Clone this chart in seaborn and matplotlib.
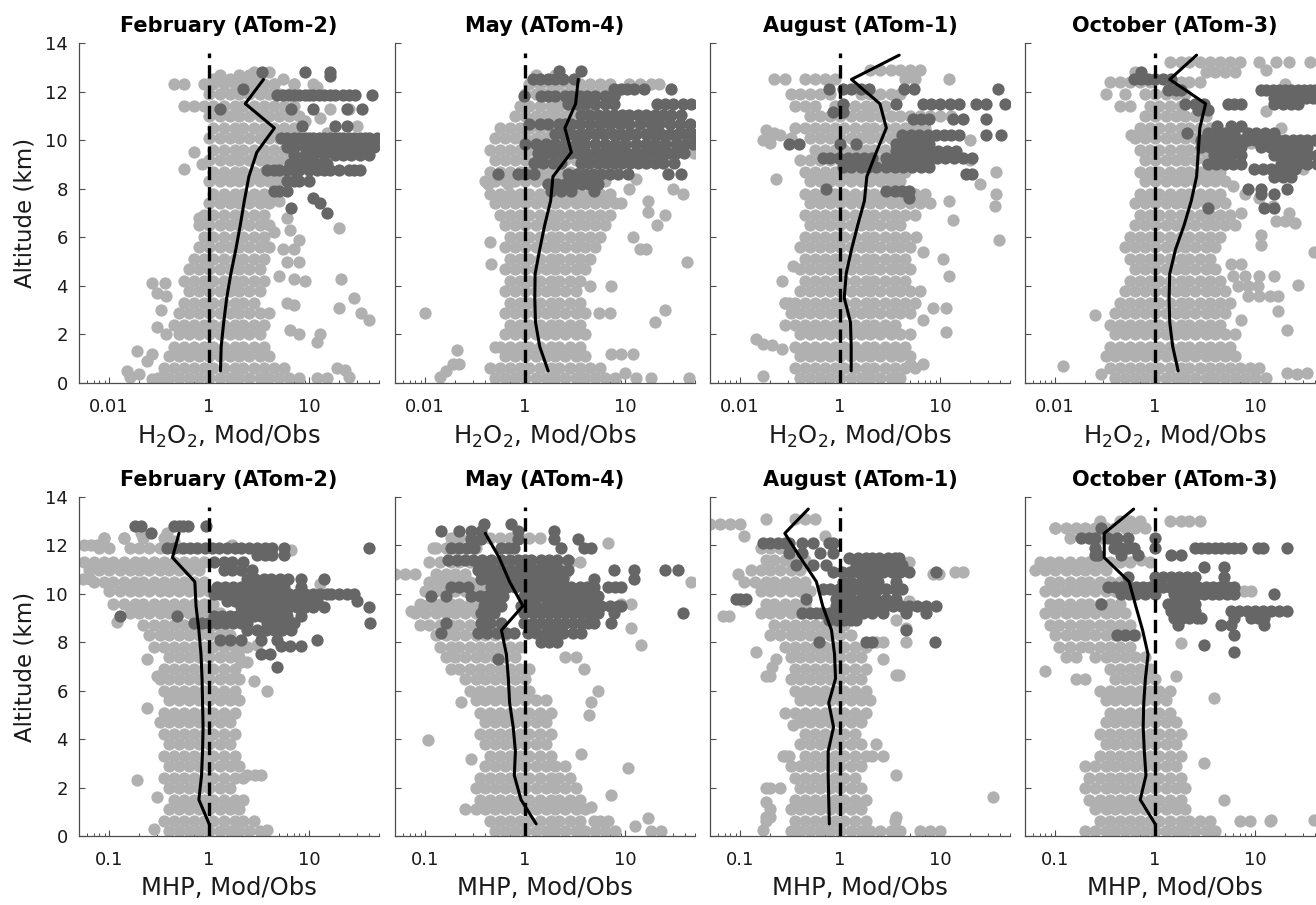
import numpy as np
import pandas as pd
import matplotlib
matplotlib.use("Agg")
import matplotlib.pyplot as plt
import seaborn as sns
from matplotlib.ticker import FixedLocator, LogLocator, NullFormatter

sns.set_style("ticks")
plt.rcParams['font.family'] = ['DejaVu Sans']
plt.rcParams['mathtext.fontset'] = 'dejavusans'
plt.rcParams['mathtext.default'] = 'regular'

# ---------------- text / axes values ----------------
TITLES = ["February (ATom-2)", "May (ATom-4)", "August (ATom-1)", "October (ATom-3)"]
XLABELS = [r"H$_2$O$_2$, Mod/Obs", "MHP, Mod/Obs"]
YLABEL = "Altitude (km)"
XTICKS = [0.1, 1, 10]
XTICKLABELS = [["0.01", "1", "10"], ["0.1", "1", "10"]]
YTICKS = [0, 2, 4, 6, 8, 10, 12, 14]
XLIM = (0.05, 50)
YLIM = (0, 14)
REF_RATIO = 1.0
REF_TOP = 13.6

MED_ALT_13 = [0.5, 1.5, 2.5, 3.5, 4.5, 5.5, 6.5, 7.5, 8.5, 9.5, 10.5, 11.5, 12.5]
MED_ALT_14 = MED_ALT_13 + [13.5]

# ---------------- Feb H2O2 ----------------
FEB_H2O2_LIGHT = [
    (0.2, [0.32, 0.4, 0.5, 0.63, 0.79, 1, 1.3, 1.6, 2, 2.5, 3.2, 4, 5, 6.3, 7.9]),
    (0.6, [0.35, 0.45, 0.56, 0.71, 0.89, 1.1, 1.4, 1.8, 2.2, 2.8, 3.5, 4.5, 5.6]),
    (1.1, [0.4, 0.5, 0.63, 0.79, 1, 1.3, 1.6, 2, 2.5, 3.2, 4]),
    (1.5, [0.45, 0.56, 0.71, 0.89, 1.1, 1.4, 1.8, 2.2, 2.8, 3.5]),
    (2.0, [0.5, 0.63, 0.79, 1, 1.3, 1.6, 2, 2.5, 3.2]),
    (2.4, [0.45, 0.56, 0.71, 0.89, 1.1, 1.4, 1.8, 2.2, 2.8, 3.5]),
    (2.9, [0.5, 0.63, 0.79, 1, 1.3, 1.6, 2, 2.5, 3.2, 4]),
    (3.3, [0.56, 0.71, 0.89, 1.1, 1.4, 1.8, 2.2, 2.8]),
    (3.8, [0.63, 0.79, 1, 1.3, 1.6, 2, 2.5, 3.2]),
    (4.2, [0.56, 0.71, 0.89, 1.1, 1.4, 1.8, 2.2, 2.8, 3.5]),
    (4.7, [0.63, 0.79, 1, 1.3, 1.6, 2, 2.5, 3.2]),
    (5.1, [0.71, 0.89, 1.1, 1.4, 1.8, 2.2, 2.8, 3.5]),
    (5.6, [0.79, 1, 1.3, 1.6, 2, 2.5, 3.2, 4]),
    (6.0, [0.89, 1.1, 1.4, 1.8, 2.2, 2.8, 3.5]),
    (6.5, [0.79, 1, 1.3, 1.6, 2, 2.5, 3.2, 4]),
    (6.9, [0.89, 1.1, 1.4, 1.8, 2.2, 2.8, 3.5]),
    (7.4, [1, 1.3, 1.6, 2, 2.5, 3.2, 4]),
    (7.8, [1.1, 1.4, 1.8, 2.2, 2.8, 3.5, 4.5]),
    (8.3, [1, 1.3, 1.6, 2, 2.5, 3.2, 4, 5]),
    (8.7, [1.1, 1.4, 1.8, 2.2, 2.8, 3.5, 4.5, 5.6]),
    (9.2, [1, 1.3, 1.6, 2, 2.5, 3.2, 4, 5, 6.3]),
    (9.6, [1.1, 1.4, 1.8, 2.2, 2.8, 3.5, 4.5, 5.6, 7.1]),
    (10.1, [1, 1.3, 1.6, 2, 2.5, 3.2, 4, 5, 6.3, 7.9]),
    (10.5, [1.1, 1.4, 1.8, 2.2, 2.8, 3.5, 4.5, 5.6, 7.1]),
    (11.0, [1, 1.3, 1.6, 2, 2.5, 3.2, 4, 5, 6.3, 7.9]),
    (11.4, [0.56, 0.71, 0.89, 1.1, 1.4, 1.8, 2.2, 2.8, 3.5, 4.5, 5.6, 7.1]),
    (11.9, [1, 1.3, 1.6, 2, 2.5, 3.2, 4, 5, 6.3]),
    (12.3, [0.45, 0.56, 0.89, 1.1, 1.4, 1.8, 2.2, 2.8, 3.5, 4.5, 7.1, 11]),
    (12.7, [1.3, 2, 2.5, 3.2]),
]
FEB_H2O2_SCATTER = [
    (0.15, 0.5), (0.16, 0.25), (0.2, 0.35), (0.27, 0.15), (0.31, 0.2), (0.36, 0.2),
    (0.19, 1.3), (0.27, 1.2), (0.24, 0.9), (12, 0.2), (15, 0.2), (19, 0.6), (23, 0.55),
    (25, 0.25), (0.3, 2.3), (0.37, 2.0), (6.5, 2.2), (8, 2.0), (12, 1.7), (13, 2.0),
    (0.33, 3.0), (6, 3.3), (7, 3.2), (20, 3.1), (28, 3.5), (33, 2.9), (40, 2.6),
    (0.3, 3.7), (0.37, 3.6), (0.27, 4.1), (0.36, 4.1), (5, 4.4), (7, 4.3), (9, 4.2),
    (21, 4.3), (6, 5.0), (8, 5.0), (5.5, 5.5), (7, 5.5), (4.5, 6.2), (6.5, 6.3),
    (8, 5.9), (20, 6.4), (0.8, 6.8), (0.7, 9.5), (0.56, 8.8), (0.85, 9.0), (30, 10.6),
    (16, 11.3), (25, 11.3), (9, 10.8), (13, 10.9), (15, 10.3), (4.5, 12.3), (7, 12.3),
    (12, 12.2), (1.1, 12.5), (1.6, 12.5), (5.5, 12.5), (2.8, 12.8), (4, 12.8),
    (5, 7.5), (6, 6.8),
]
FEB_H2O2_DARK = [
    (12.8, [3.4, 9, 16]), (12.65, [16]), (12.1, [2.2]),
    (11.85, [4.8, 5.5, 6.3, 7, 8, 9, 10, 11, 12.6, 14, 16, 18, 22, 25, 29, 43]),
    (11.3, [1.3, 6.6, 11, 24, 34]),
    (10.6, [8.5, 18, 24]),
    (10.1, [5.2, 6, 7, 8, 9, 10, 11, 12.6, 14, 16, 18, 20, 22, 25, 28, 32, 36, 40, 48]),
    (9.7, [6, 7, 9, 11, 13, 16, 20, 25, 30, 35, 40, 45]),
    (9.4, [7, 9, 11, 14, 18, 22, 26, 32, 40]),
    (9.0, [6.5, 8, 10, 12, 15]),
    (8.75, [3.8, 4.5, 5, 6, 7, 8, 10, 12, 14, 16, 20, 25, 28, 32]),
    (8.3, [6, 7, 8, 10]),
    (7.9, [4.5, 5, 6]),
    (7.6, [11]), (7.4, [13]), (7.2, [6.6]), (7.0, [15]),
]
FEB_H2O2_MEDIAN = [1.3, 1.32, 1.4, 1.5, 1.65, 1.85, 2.05, 2.25, 2.5, 3.0, 4.5, 2.3, 3.5]

# ---------------- May H2O2 ----------------
MAY_H2O2_LIGHT = [
    (0.2, [0.5, 0.63, 0.79, 1, 1.3, 1.6, 2, 2.5, 3.2, 4, 5, 6.3, 7.9, 13, 18, 44]),
    (0.6, [0.45, 0.56, 0.71, 0.89, 1.1, 1.4, 1.8, 2.2, 2.8, 3.5, 4.5, 5.6]),
    (1.1, [0.63, 0.79, 1, 1.3, 1.6, 2, 2.5, 3.2, 4]),
    (1.5, [0.56, 0.71, 0.89, 1.1, 1.4, 1.8, 2.2, 2.8, 3.5]),
    (2.0, [0.63, 0.79, 1, 1.3, 1.6, 2, 2.5, 3.2, 4]),
    (2.4, [0.71, 0.89, 1.1, 1.4, 1.8, 2.2, 2.8, 3.5]),
    (2.9, [0.63, 0.79, 1, 1.3, 1.6, 2, 2.5, 3.2]),
    (3.3, [0.71, 0.89, 1.1, 1.4, 1.8, 2.2, 2.8, 3.5]),
    (3.8, [0.63, 0.79, 1, 1.3, 1.6, 2, 2.5, 3.2]),
    (4.2, [0.71, 0.89, 1.1, 1.4, 1.8, 2.2, 2.8, 3.5]),
    (4.7, [0.63, 0.79, 1, 1.3, 1.6, 2, 2.5, 3.2, 4]),
    (5.1, [0.71, 0.89, 1.1, 1.4, 1.8, 2.2, 2.8, 3.5, 4.5]),
    (5.6, [0.63, 0.79, 1, 1.3, 1.6, 2, 2.5, 3.2, 4, 5]),
    (6.0, [0.71, 0.89, 1.1, 1.4, 1.8, 2.2, 2.8, 3.5, 4.5, 5.6]),
    (6.5, [0.63, 0.79, 1, 1.3, 1.6, 2, 2.5, 3.2, 4, 5, 6.3]),
    (6.9, [0.56, 0.71, 0.89, 1.1, 1.4, 1.8, 2.2, 2.8, 3.5, 4.5, 5.6, 7.1]),
    (7.4, [0.5, 0.63, 0.79, 1, 1.3, 1.6, 2, 2.5, 3.2, 4, 5, 6.3, 7.9]),
    (7.8, [0.45, 0.56, 0.71, 0.89, 1.1, 1.4, 1.8, 2.2, 2.8, 3.5, 4.5, 5.6, 7.1]),
    (8.3, [0.4, 0.5, 0.63, 0.79, 1, 1.3, 1.6, 2, 2.5, 3.2, 4, 5, 6.3]),
    (8.7, [0.45, 0.56, 0.71, 0.89, 1.1, 1.4, 1.8, 2.2, 2.8, 3.5]),
    (9.2, [0.5, 0.63, 0.79, 1, 1.3, 1.6, 2, 2.5, 3.2]),
    (9.6, [0.45, 0.56, 0.71, 0.89, 1.1, 1.4, 1.8, 2.2, 2.8]),
    (10.1, [0.5, 0.63, 0.79, 1, 1.3, 1.6, 2, 2.5]),
    (10.5, [0.56, 0.71, 0.89, 1.1, 1.4, 1.8, 2.2, 2.8]),
    (11.0, [0.79, 1, 1.3, 1.6, 2, 2.5, 3.2, 4]),
    (11.4, [0.89, 1.1, 1.4, 1.8, 2.2, 2.8, 3.5, 4.5]),
    (11.9, [1, 1.3, 1.6, 2, 2.5, 3.2, 4, 5, 6.3, 7.9]),
    (12.3, [1.1, 1.4, 1.8, 2.2, 2.8, 3.5, 4.5, 5.6, 7.1, 11, 14, 18, 22]),
    (12.7, [1.3, 2]),
]
MAY_H2O2_SCATTER = [
    (0.14, 0.25), (0.19, 0.8), (0.22, 0.8), (0.21, 1.35), (0.5, 1.5), (7.2, 1.2),
    (9, 1.2), (12, 1.2), (0.1, 2.9), (4, 2.9), (5.5, 2.9), (7, 2.9), (20, 2.5),
    (25, 3.0), (0.46, 4.9), (0.45, 5.8), (4.5, 4.0), (7.2, 4.0), (42, 5.0), (14, 5.5),
    (16, 5.5), (17, 7.05), (21, 6.5), (25, 6.9), (38, 7.8), (30, 8.0), (17, 7.5),
    (49, 9.45), (0.43, 8.2), (0.67, 8.2), (11, 8.0), (13, 8.4), (0.16, 0.5),
    (10, 0.4), (9, 7.4), (12, 6.0),
]
MAY_H2O2_DARK = [
    (12.85, [2.2, 3.6]),
    (12.5, [1.2, 1.4, 1.7, 2.0, 2.4, 3.1]),
    (12.1, [7.8, 9, 10.5, 12.4, 15.6, 29]),
    (11.8, [0.98, 1.45, 1.7, 2, 2.5, 2.9, 3.5, 4.2, 5, 6.3, 7.8]),
    (11.5, [2.7, 3.3, 4, 5, 6.3, 7.8, 21, 25, 30, 38, 46]),
    (11.05, [3.6, 4.4, 5.3, 6.4, 7.7, 9.3, 11, 13.5, 16, 20, 24, 29, 36]),
    (10.65, [1.1, 1.4, 1.7, 2.2, 2.5, 2.9, 3.5, 4.5, 5.6, 7, 8.9, 11, 14, 18, 22, 28, 35, 45]),
    (10.25, [2, 2.4, 2.9, 3.5, 4.2, 5.1, 6.2, 7.5, 9, 11, 13, 16, 19, 23, 28, 34, 41, 48]),
    (9.85, [1, 1.3, 1.6, 2, 2.5, 3.2, 4, 5, 6.3, 7.9, 10, 13, 16, 20, 25, 32, 40, 48]),
    (9.45, [1.34, 1.6, 1.95, 2.35, 2.8, 3.4, 4.1, 5, 6, 7.2, 8.7, 10.5, 12.7, 15.3, 18.5, 22, 27, 32, 39]),
    (9.05, [1.24, 1.5, 1.9, 2.3, 3.6, 4.4, 5.3, 6.4, 7.7, 9.3, 11.2, 13.5, 16, 20, 24, 31]),
    (8.6, [0.53, 0.85, 1.0, 1.24, 2.7, 3.3, 4, 4.8, 5.8, 7, 8.5, 10.6, 27, 36]),
    (8.2, [1.7, 2.1, 2.5, 3.1, 3.7, 4.4, 5.3]),
    (7.9, [1.8, 2.3, 2.9, 4.9]),
]
MAY_H2O2_MEDIAN = [1.7, 1.4, 1.27, 1.25, 1.26, 1.4, 1.57, 1.8, 1.9, 2.9, 2.5, 3.2, 3.4]

# ---------------- Aug H2O2 ----------------
AUG_H2O2_LIGHT = [
    (0.2, [0.4, 0.5, 0.63, 0.79, 1, 1.3, 1.6, 2, 2.5, 3.2, 4]),
    (0.6, [0.35, 0.45, 0.56, 0.71, 0.89, 1.1, 1.4, 1.8, 2.2, 2.8, 3.5, 4.5, 5.6]),
    (1.1, [0.4, 0.5, 0.63, 0.79, 1, 1.3, 1.6, 2, 2.5, 3.2, 4, 5]),
    (1.5, [0.35, 0.45, 0.56, 0.71, 0.89, 1.1, 1.4, 1.8, 2.2, 2.8, 3.5, 4.5]),
    (2.0, [0.4, 0.5, 0.63, 0.79, 1, 1.3, 1.6, 2, 2.5, 3.2, 4, 5]),
    (2.4, [0.28, 0.35, 0.45, 0.56, 0.71, 0.89, 1.1, 1.4, 1.8, 2.2, 2.8, 3.5]),
    (2.9, [0.32, 0.4, 0.5, 0.63, 0.79, 1, 1.3, 1.6, 2, 2.5, 3.2, 4, 5]),
    (3.3, [0.28, 0.35, 0.45, 0.56, 0.71, 0.89, 1.1, 1.4, 1.8, 2.2, 2.8, 3.5, 4.5, 5.6]),
    (3.8, [0.4, 0.5, 0.63, 0.79, 1, 1.3, 1.6, 2, 2.5, 3.2, 4, 5, 6.3]),
    (4.2, [0.45, 0.56, 0.71, 0.89, 1.1, 1.4, 1.8, 2.2, 2.8, 3.5, 4.5]),
    (4.7, [0.4, 0.5, 0.63, 0.79, 1, 1.3, 1.6, 2, 2.5, 3.2, 4, 5]),
    (5.1, [0.45, 0.56, 0.71, 0.89, 1.1, 1.4, 1.8, 2.2, 2.8, 3.5, 4.5]),
    (5.6, [0.4, 0.5, 0.63, 0.79, 1, 1.3, 1.6, 2, 2.5, 3.2, 4, 5]),
    (6.0, [0.45, 0.56, 0.71, 0.89, 1.1, 1.4, 1.8, 2.2, 2.8, 3.5, 4.5]),
    (6.5, [0.5, 0.63, 0.79, 1, 1.3, 1.6, 2, 2.5, 3.2, 4]),
    (6.9, [0.45, 0.56, 0.71, 0.89, 1.1, 1.4, 1.8, 2.2, 2.8, 3.5, 4.5, 5.6]),
    (7.4, [0.5, 0.63, 0.79, 1, 1.3, 1.6, 2, 2.5, 3.2, 4, 5, 6.3, 7.9]),
    (7.8, [0.45, 0.56, 0.71, 0.89, 1.1, 1.4, 1.8, 2.2, 2.8, 3.5, 4.5, 5.6, 7.1]),
    (8.3, [0.5, 0.63, 0.79, 1, 1.3, 1.6, 2, 2.5, 3.2, 4]),
    (8.7, [0.45, 0.56, 0.71, 0.89, 1.1, 1.4, 1.8, 2.2, 2.8, 3.5, 4.5]),
    (9.2, [0.4, 0.5, 0.63, 0.79, 1, 1.3, 1.6, 2, 2.5, 3.2, 4, 5, 6.3, 7.9]),
    (9.6, [0.56, 0.71, 0.89, 1.1, 1.4, 1.8, 2.2, 2.8, 3.5]),
    (10.1, [0.2, 0.32, 0.5, 0.63, 0.79, 1, 1.3, 1.6, 2, 2.5, 3.2, 4]),
    (10.5, [0.35, 0.45, 0.56, 0.71, 0.89, 1.1, 1.4, 1.8, 2.2, 2.8, 3.5, 4.5, 5.6, 7.1]),
    (11.0, [0.5, 0.63, 0.79, 1, 1.3, 1.6, 2, 2.5, 3.2, 4, 5, 6.3, 7.9, 10, 13]),
    (11.4, [0.35, 0.45, 0.56, 0.89, 1.1, 1.4, 1.8, 2.2, 2.8]),
    (11.9, [0.32, 0.4, 0.5, 0.63, 0.79, 1.6, 2, 2.5, 3.2, 4]),
    (12.5, [0.22, 0.28, 0.45, 0.56, 0.71, 0.89, 4.5, 5.6]),
    (12.9, [2, 2.5, 3.2, 4, 5, 6.3]),
]
AUG_H2O2_SCATTER = [
    (0.145, 1.8), (0.21, 1.55), (0.26, 1.4), (0.28, 3.3), (0.31, 3.3), (0.34, 4.8),
    (0.23, 8.4), (0.26, 4.2), (0.17, 0.3), (10.7, 5.1), (12.4, 4.4), (12.4, 7.5),
    (13.4, 6.7), (39, 5.9), (36, 7.8), (35, 7.3), (36, 8.7), (25, 8.2), (20, 9.2),
    (20, 10.0), (11.5, 3.1), (8.5, 3.1), (6.7, 2.6), (11.5, 2.1), (5.8, 6.0),
    (6.7, 5.4), (0.18, 10.4), (0.22, 10.3), (0.25, 10.2), (0.17, 10.0), (0.2, 9.9),
    (12.4, 12.5), (5, 0.8), (6.7, 0.8), (0.17, 1.6),
]
AUG_H2O2_DARK = [
    (12.1, [0.78, 1.06, 1.3, 1.6, 1.96, 4.4, 5.5, 38]),
    (11.5, [1.06, 3.6, 6.7, 8.2, 10, 12.5, 15.6, 23, 29, 45]),
    (11.15, [0.85, 1.06]),
    (10.85, [5.3, 6.4, 7.8, 13.4, 16.8, 29]),
    (10.2, [4.2, 5.1, 6.2, 7.5, 9, 11, 13, 15.6, 29, 41]),
    (9.85, [0.31, 0.39, 1, 1.45, 3.6, 4.4, 5.3, 6.4, 7.8]),
    (9.55, [3.6, 4.4, 5.3, 6.4, 7.8, 9.5, 11.7, 14.5]),
    (9.25, [0.67, 0.8, 0.98, 1.2, 1.45, 1.75, 2.1, 2.9, 3.5, 4.3, 5.2, 6.3, 7.7, 9.3, 11.3, 13.8, 17, 21]),
    (8.9, [1.06, 1.3, 1.6, 1.9, 2.3, 2.9, 3.5, 4.3, 5.2, 6.4, 7.8]),
    (8.6, [18, 21]),
    (8.0, [0.72]),
    (7.9, [2.9, 3.5, 4.2, 4.9]),
    (7.6, [4.9]),
]
AUG_H2O2_MEDIAN = [1.29, 1.29, 1.27, 1.1, 1.15, 1.3, 1.5, 1.75, 1.85, 2.3, 2.9, 2.5, 1.3, 3.9]

# ---------------- Oct H2O2 ----------------
OCT_H2O2_LIGHT = [
    (0.2, [0.4, 0.5, 0.63, 0.79, 1, 1.3, 1.6, 2, 2.5, 3.2, 4, 5, 6.3, 7.9, 10, 13]),
    (0.6, [0.35, 0.45, 0.56, 0.71, 0.89, 1.1, 1.4, 1.8, 2.2, 2.8, 3.5, 4.5, 5.6, 7.1, 8.9, 11]),
    (1.1, [0.32, 0.4, 0.5, 0.63, 0.79, 1, 1.3, 1.6, 2, 2.5, 3.2, 4, 5, 6.3]),
    (1.5, [0.35, 0.45, 0.56, 0.71, 0.89, 1.1, 1.4, 1.8, 2.2, 2.8, 3.5, 4.5, 5.6]),
    (2.0, [0.4, 0.5, 0.63, 0.79, 1, 1.3, 1.6, 2, 2.5, 3.2, 4, 5, 6.3]),
    (2.4, [0.35, 0.45, 0.56, 0.71, 0.89, 1.1, 1.4, 1.8, 2.2, 2.8, 3.5, 4.5]),
    (2.9, [0.4, 0.5, 0.63, 0.79, 1, 1.3, 1.6, 2, 2.5, 3.2, 4, 5]),
    (3.3, [0.45, 0.56, 0.71, 0.89, 1.1, 1.4, 1.8, 2.2, 2.8, 3.5, 4.5, 5.6]),
    (3.8, [0.5, 0.63, 0.79, 1, 1.3, 1.6, 2, 2.5, 3.2, 4, 5]),
    (4.2, [0.56, 0.71, 0.89, 1.1, 1.4, 1.8, 2.2, 2.8, 3.5, 4.5]),
    (4.7, [0.63, 0.79, 1, 1.3, 1.6, 2, 2.5, 3.2, 4]),
    (5.1, [0.56, 0.71, 0.89, 1.1, 1.4, 1.8, 2.2, 2.8, 3.5]),
    (5.6, [0.5, 0.63, 0.79, 1, 1.3, 1.6, 2, 2.5, 3.2, 4]),
    (6.0, [0.56, 0.71, 0.89, 1.1, 1.4, 1.8, 2.2, 2.8, 3.5, 4.5]),
    (6.5, [0.63, 0.79, 1, 1.3, 1.6, 2, 2.5, 3.2, 4, 5, 6.3]),
    (6.9, [0.71, 0.89, 1.1, 1.4, 1.8, 2.2, 2.8, 3.5, 4.5, 5.6]),
    (7.4, [0.63, 0.79, 1, 1.3, 1.6, 2, 2.5, 3.2, 4, 5]),
    (7.8, [0.71, 0.89, 1.1, 1.4, 1.8, 2.2, 2.8, 3.5, 4.5]),
    (8.3, [0.79, 1, 1.3, 1.6, 2, 2.5, 3.2, 4, 5]),
    (8.7, [0.71, 0.89, 1.1, 1.4, 1.8, 2.2, 2.8, 3.5, 4.5]),
    (9.2, [0.79, 1, 1.3, 1.6, 2, 2.5, 3.2, 4]),
    (9.6, [0.71, 0.89, 1.1, 1.4, 1.8, 2.2, 2.8, 3.5]),
    (10.1, [0.63, 0.79, 1, 1.3, 1.6, 2, 2.5, 3.2]),
    (10.5, [0.71, 0.89, 1.1, 1.4, 1.8, 2.2, 2.8, 3.5]),
    (11.0, [0.79, 1, 1.3, 1.6, 2, 2.5, 3.2]),
    (11.4, [0.45, 0.56, 0.89, 1.1, 1.4, 1.8]),
    (11.9, [0.32, 0.5, 0.79, 1, 1.3, 1.6, 2]),
    (12.4, [0.35, 0.45, 0.56, 0.71, 0.89, 1.4, 1.8, 2.2, 2.8]),
    (12.8, [0.63, 3.2, 4, 5, 6.3]),
    (13.2, [1.4, 1.8, 2.2, 2.8, 3.5, 4.5, 5.6, 7.1, 11, 22, 35]),
]
OCT_H2O2_SCATTER = [
    (6, 8.1), (8, 7.8), (11, 7.6), (15, 7.3), (22, 7.0), (7.2, 7.0), (16, 6.65),
    (20, 6.65), (25, 6.6), (11.5, 6.1), (11.5, 5.7), (39, 5.4), (5.8, 4.9), (7.2, 4.9),
    (6, 4.4), (8, 4.4), (11, 4.4), (15.6, 4.4), (27, 4.05), (6.7, 4.0), (8.5, 4.0),
    (10.6, 4.0), (8.4, 3.6), (11, 3.6), (14, 3.6), (16.8, 3.6), (0.25, 2.8), (17, 2.95),
    (7.2, 2.6), (21, 2.2), (0.12, 0.7), (0.29, 0.35), (21, 0.4), (26, 0.35), (33, 0.4),
    (18, 10.5), (25, 9.2), (30, 8.8), (0.58, 10.2), (0.72, 10.2), (13, 11.2), (20, 12.3),
    (9, 9.9), (13, 12.9), (16, 13.2),
]
OCT_H2O2_DARK = [
    (12.8, [0.72]),
    (12.5, [0.62, 0.72, 0.85, 1, 1.2, 1.45]),
    (12.05, [1.35, 1.6, 1.8, 11.5, 13, 15, 17.5, 20, 23, 27, 31, 35, 40]),
    (11.75, [15.6, 18, 21, 24, 28, 32, 38, 42]),
    (11.5, [2, 2.5, 3.1, 5.3, 6.2, 7.2, 15.6, 19, 23, 27]),
    (11.25, [2.7, 3.4]),
    (10.6, [4.2, 5.7, 7.2]),
    (10.3, [2.1, 3.4, 4.1, 5, 6.2, 8.4, 10.3, 12.7, 15.6]),
    (10.0, [2.9, 3.4, 4, 4.6, 5.4, 6.3, 7.2, 8.5, 10, 12, 14.5, 17, 20, 24, 28, 33, 40]),
    (9.7, [2.9, 3.5, 4.2, 5, 6, 7.2, 11.5, 14, 17, 21, 26, 33]),
    (9.4, [3.9, 4.7, 5.7, 7.2, 15.6, 19, 23, 28, 34, 42]),
    (9.0, [3.4, 4.1, 5, 6, 7.2, 18, 22, 27, 33, 42]),
    (8.8, [9.8, 12, 14.5, 17.5, 21, 25]),
    (8.5, [15.6, 19, 23]),
    (8.0, [8.4, 11.5, 21]),
    (7.8, [11.5, 15.6]),
    (7.2, [3.4, 12.4, 15.6]),
]
OCT_H2O2_MEDIAN = [1.7, 1.5, 1.4, 1.38, 1.4, 1.6, 1.95, 2.3, 2.6, 2.7, 2.8, 3.2, 1.4, 2.6]

# ---------------- Feb MHP ----------------
FEB_MHP_LIGHT = [
    (0.2, [0.4, 0.5, 0.63, 0.79, 1, 1.3, 1.6, 2, 2.5, 3.2]),
    (0.6, [0.35, 0.45, 0.56, 0.71, 0.89, 1.1, 1.4, 1.8, 2.2, 2.8]),
    (1.1, [0.4, 0.5, 0.63, 0.79, 1, 1.3, 1.6, 2]),
    (1.5, [0.45, 0.56, 0.71, 0.89, 1.1, 1.4, 1.8, 2.2]),
    (2.0, [0.4, 0.5, 0.63, 0.79, 1, 1.3, 1.6]),
    (2.4, [0.35, 0.45, 0.56, 0.71, 0.89, 1.1, 1.4, 1.8, 2.2]),
    (2.9, [0.4, 0.5, 0.63, 0.79, 1, 1.3, 1.6, 2]),
    (3.3, [0.35, 0.45, 0.56, 0.71, 0.89, 1.1, 1.4, 1.8]),
    (3.8, [0.4, 0.5, 0.63, 0.79, 1, 1.3, 1.6]),
    (4.2, [0.35, 0.45, 0.56, 0.71, 0.89, 1.1, 1.4, 1.8]),
    (4.7, [0.32, 0.4, 0.5, 0.63, 0.79, 1, 1.3, 1.6]),
    (5.1, [0.35, 0.45, 0.56, 0.71, 0.89, 1.1, 1.4, 1.8]),
    (5.6, [0.4, 0.5, 0.63, 0.79, 1, 1.3, 1.6, 2]),
    (6.0, [0.35, 0.45, 0.56, 0.71, 0.89, 1.1, 1.4, 1.8]),
    (6.5, [0.32, 0.4, 0.5, 0.63, 0.79, 1, 1.3, 1.6, 2]),
    (6.9, [0.35, 0.45, 0.56, 0.71, 0.89, 1.1, 1.4, 1.8]),
    (7.4, [0.4, 0.5, 0.63, 0.79, 1, 1.3, 1.6, 2]),
    (7.8, [0.28, 0.35, 0.45, 0.56, 0.71, 0.89, 1.1, 1.4, 1.8, 2.2]),
    (8.3, [0.25, 0.32, 0.4, 0.5, 0.63, 0.79, 1, 1.3, 1.6]),
    (8.7, [0.22, 0.28, 0.35, 0.45, 0.56, 0.71, 0.89, 1.1, 1.4]),
    (9.2, [0.16, 0.2, 0.25, 0.32, 0.4, 0.5, 0.63, 0.79, 1, 1.3]),
    (9.6, [0.11, 0.14, 0.18, 0.22, 0.28, 0.35, 0.45, 0.56, 0.71, 0.89, 1.1]),
    (10.1, [0.1, 0.13, 0.16, 0.2, 0.25, 0.32, 0.4, 0.5, 0.63, 0.79, 1]),
    (10.5, [0.071, 0.089, 0.11, 0.14, 0.18, 0.22, 0.28, 0.35, 0.45, 0.56, 0.71, 0.89]),
    (11.0, [0.063, 0.079, 0.1, 0.13, 0.16, 0.2, 0.25, 0.32, 0.4, 0.5, 0.63, 0.79]),
    (11.3, [0.056, 0.071, 0.089, 0.11, 0.14, 0.18, 0.22, 0.28, 0.35, 0.45, 0.56, 0.71, 0.89]),
    (11.9, [0.079, 0.1, 0.16, 0.2, 0.25, 0.32, 0.5]),
    (12.3, [0.089, 0.14, 0.22, 0.35]),
]
FEB_MHP_SCATTER = [
    (0.056, 12.0), (0.066, 12.0), (0.076, 12.0), (0.089, 12.3), (0.14, 12.3),
    (0.21, 12.5), (0.38, 12.5), (0.055, 10.6), (0.065, 10.6), (13, 10.4), (0.12, 8.85),
    (0.24, 7.3), (0.3, 6.6), (2.8, 6.4), (3.8, 6.0), (0.24, 5.3), (2.4, 2.5), (2.9, 2.5),
    (3.3, 2.5), (0.19, 2.3), (0.3, 1.6), (0.28, 0.3), (3.8, 0.25), (2.1, 7.2), (2.4, 7.2),
    (6.6, 11.8), (2.4, 7.8), (3, 7.9), (1.7, 12.0), (0.45, 12.2),
]
FEB_MHP_DARK = [
    (12.8, [0.18, 0.21, 0.45, 0.5, 0.55, 0.61, 0.93]),
    (12.5, [0.26]),
    (11.9, [0.38, 0.45, 0.55, 0.65, 0.76, 0.9, 1.07, 1.26, 1.5, 1.8, 2.1, 2.5, 3, 3.6, 4.3, 5.6, 40]),
    (11.6, [3.0, 3.6, 4.3, 5.6]),
    (11.3, [1.12, 1.4, 1.7, 2.2]),
    (11.0, [1.4, 1.7, 2.1, 2.7]),
    (10.6, [2.4, 2.9, 3.5, 4.2, 5.1, 6.2, 8.3, 14]),
    (10.3, [1.2, 1.45, 1.75, 2.1, 2.5, 3, 3.6, 4.4, 5.6, 8.3]),
    (10.0, [1.12, 1.3, 1.5, 1.8, 2.1, 2.5, 3, 3.6, 4.3, 5.2, 6.3, 7.6, 9, 11, 13, 15, 16.5, 20, 24, 28]),
    (9.7, [1.5, 1.8, 2.2, 2.6, 3.1, 3.7, 4.5, 5.4, 6.5, 7.8, 9.4, 12, 30]),
    (9.45, [2.1, 2.5, 3, 3.6, 4.4, 5.3, 6.3, 7.6, 9.2, 11, 14, 40]),
    (9.1, [0.13, 0.48, 1.12, 1.35, 1.6, 1.9, 2.3, 2.8, 3.3, 4, 4.8, 6, 8.3]),
    (8.8, [0.71, 0.85, 1.0, 1.2, 1.45, 1.75, 2.1, 2.4, 3.8, 4.6, 5.6, 7.1, 41]),
    (8.5, [2.4, 3, 3.7, 4.5, 5.4, 6.6]),
    (8.1, [1.3, 1.6, 2.1, 3.3, 4.8, 12]),
    (7.85, [5.2, 6.5, 8.3]),
    (7.5, [3.3, 4.1]),
    (7.0, [4.8]),
]
FEB_MHP_MEDIAN = [1.0, 0.79, 0.84, 0.86, 0.87, 0.86, 0.85, 0.83, 0.79, 0.74, 0.72, 0.43, 0.5]

# ---------------- May MHP ----------------
MAY_MHP_LIGHT = [
    (0.2, [0.5, 0.63, 0.79, 1, 1.3, 1.6, 2, 2.5, 3.2, 4, 5, 6.3, 7.9, 18, 23]),
    (0.6, [0.45, 0.56, 0.71, 0.89, 1.1, 1.4, 1.8, 2.2, 2.8, 3.5, 5.6]),
    (1.1, [0.25, 0.32, 0.4, 0.5, 0.63, 0.79, 1, 1.3, 1.6, 2, 2.5, 3.2, 4]),
    (1.5, [0.35, 0.45, 0.56, 0.71, 0.89, 1.1, 1.4, 1.8, 2.2, 2.8, 3.5]),
    (2.0, [0.32, 0.4, 0.5, 0.63, 0.79, 1, 1.3, 1.6, 2, 2.5, 3.2]),
    (2.4, [0.35, 0.45, 0.56, 0.71, 0.89, 1.1, 1.4, 1.8, 2.2, 2.8]),
    (2.9, [0.4, 0.5, 0.63, 0.79, 1, 1.3, 1.6, 2, 2.5]),
    (3.3, [0.45, 0.56, 0.71, 0.89, 1.1, 1.4, 1.8]),
    (3.8, [0.4, 0.5, 0.63, 0.79, 1, 1.3, 1.6]),
    (4.2, [0.35, 0.45, 0.56, 0.71, 0.89, 1.1, 1.4, 1.8]),
    (4.7, [0.4, 0.5, 0.63, 0.79, 1, 1.3, 1.6]),
    (5.1, [0.35, 0.45, 0.56, 0.71, 0.89, 1.1, 1.4, 1.8]),
    (5.6, [0.32, 0.4, 0.5, 0.63, 0.79, 1, 1.3, 1.6]),
    (6.0, [0.28, 0.35, 0.45, 0.56, 0.71, 0.89, 1.1]),
    (6.5, [0.25, 0.32, 0.4, 0.5, 0.63, 0.79, 1]),
    (6.9, [0.18, 0.22, 0.28, 0.35, 0.45, 0.56, 0.71, 0.89, 1.1]),
    (7.4, [0.16, 0.2, 0.25, 0.32, 0.4, 0.5, 0.63, 0.79, 2.5, 3.2]),
    (7.8, [0.14, 0.18, 0.22, 0.28, 0.35, 0.45, 0.56, 0.71, 0.89]),
    (8.3, [0.13, 0.16, 0.2, 0.25, 0.32, 0.4, 0.5, 0.63]),
    (8.7, [0.089, 0.11, 0.14, 0.18, 0.22, 0.28, 0.35, 0.45]),
    (9.2, [0.079, 0.1, 0.13, 0.16, 0.2, 0.25, 0.32, 0.4]),
    (9.6, [0.089, 0.11, 0.14, 0.18, 0.22, 0.28, 0.35, 0.45]),
    (10.1, [0.1, 0.13, 0.16, 0.2, 0.25, 0.32, 0.4, 0.5]),
    (10.5, [0.11, 0.14, 0.18, 0.22, 0.28, 0.35, 0.45, 0.56, 0.71, 0.89]),
    (10.8, [0.05, 0.063, 0.079, 0.13, 0.16, 0.2, 0.25, 2, 2.5]),
    (11.3, [0.11, 0.14, 0.18, 0.22, 0.28, 0.35, 0.45, 0.56, 1.4, 1.8, 2.2, 2.8, 3.5]),
    (11.9, [0.13, 0.16, 0.2, 0.25, 0.32]),
    (12.3, [0.18, 0.22, 0.28, 0.35, 0.45, 0.56, 0.71, 0.89, 1.1, 1.4]),
]
MAY_MHP_SCATTER = [
    (0.107, 3.97), (0.29, 3.2), (0.23, 5.55), (3.6, 3.4), (10.6, 2.8), (7.2, 1.7),
    (4.6, 1.2), (3.9, 6.9), (5.4, 6.0), (4.6, 5.55), (4.4, 5.0), (14.5, 7.9), (11.5, 8.6),
    (9, 9.6), (11.5, 9.6), (46, 10.5), (0.072, 9.3), (6.7, 12.1), (17, 0.73), (4.9, 0.6),
    (6.7, 0.6), (12.5, 0.4), (0.12, 11.9),
]
MAY_MHP_DARK = [
    (12.9, [0.39, 0.72]),
    (12.6, [0.145, 0.22, 0.29, 0.36, 0.85, 1.96]),
    (12.25, [0.29, 0.36, 0.85, 1.96, 3.4]),
    (11.9, [0.18, 0.22, 0.26, 0.31, 0.58, 0.68, 0.78, 2.3, 3.9, 4.6]),
    (11.4, [0.17, 0.21, 0.25, 0.3, 0.37, 0.46, 0.58, 0.7, 0.85, 1.0, 1.15, 1.45, 1.75, 2.1, 2.7]),
    (11.0, [0.34, 0.41, 0.5, 0.6, 0.72, 0.87, 1.05, 1.25, 1.5, 1.8, 2.2, 2.7, 7.8, 12.4, 25, 34]),
    (10.6, [0.36, 0.43, 0.52, 0.63, 0.76, 0.92, 1.1, 1.35, 1.6, 2, 2.4, 4.9, 12.4]),
    (10.3, [0.18, 0.22, 0.27, 0.46, 0.55, 0.66, 0.8, 0.96, 1.15, 1.4, 1.7, 2, 2.4, 2.9, 3.5, 4.2, 4.9, 6.7, 8, 9.1]),
    (9.9, [0.115, 0.16, 0.29, 0.35, 0.42, 0.5, 0.6, 0.98, 1.2, 1.45, 1.75, 2.1, 2.5, 3, 3.6, 4.4, 5.3]),
    (9.5, [0.39, 0.47, 0.58, 0.91, 1.1, 1.3, 1.6, 1.9, 2.3, 2.8, 3.3, 4, 4.8, 5.8, 7, 8.4, 9.1]),
    (9.2, [0.36, 0.42, 0.49, 0.98, 1.2, 1.45, 1.75, 2.1, 2.5, 3, 3.6, 4.4, 5.3, 7.8, 38]),
    (8.8, [0.16, 0.36, 0.45, 0.58, 0.98, 1.2, 1.45, 1.75, 2.1, 2.5, 3, 3.6, 4.3, 4.9, 7.2]),
    (8.4, [0.145, 0.34, 0.42, 0.52, 0.64, 0.78, 1.06, 1.3, 1.6, 2, 2.4, 3, 3.6]),
    (8.0, [1.45, 1.75, 2.1]),
    (7.3, [0.53]),
]
MAY_MHP_MEDIAN = [1.29, 0.91, 0.78, 0.8, 0.76, 0.7, 0.68, 0.65, 0.58, 0.95, 0.7, 0.55, 0.4]

# ---------------- Aug MHP ----------------
AUG_MHP_LIGHT = [
    (0.2, [0.32, 0.4, 0.5, 0.63, 0.79, 1, 1.3, 1.6, 2, 2.5, 3.2, 4, 6.3, 7.9, 10]),
    (0.6, [0.18, 0.35, 0.45, 0.56, 0.71, 0.89, 1.1, 1.4, 1.8, 3.5]),
    (1.1, [0.2, 0.32, 0.4, 0.5, 0.63, 0.79, 1, 1.3, 1.6]),
    (1.5, [0.35, 0.45, 0.56, 0.71, 0.89, 1.1, 1.4, 1.8]),
    (2.0, [0.2, 0.25, 0.4, 0.5, 0.63, 0.79, 1, 1.3, 1.6]),
    (2.4, [0.35, 0.45, 0.56, 0.71, 0.89, 1.1, 1.4]),
    (2.9, [0.32, 0.4, 0.5, 0.63, 0.79, 1, 1.3, 1.6]),
    (3.3, [0.28, 0.45, 0.56, 0.71, 0.89, 1.1, 1.4, 1.8]),
    (3.8, [0.4, 0.5, 0.63, 0.79, 1, 1.3, 1.6]),
    (4.2, [0.45, 0.56, 0.71, 0.89, 1.1, 1.4]),
    (4.7, [0.4, 0.5, 0.63, 0.79, 1, 1.3, 1.6]),
    (5.1, [0.35, 0.45, 0.56, 0.71, 0.89, 1.1, 1.4, 1.8]),
    (5.6, [0.4, 0.5, 0.63, 0.79, 1, 1.3, 1.6, 2]),
    (6.0, [0.35, 0.45, 0.56, 0.71, 0.89, 1.1, 1.4, 1.8]),
    (6.5, [0.32, 0.4, 0.5, 0.63, 0.79, 1, 1.3, 1.6]),
    (6.9, [0.35, 0.45, 0.56, 0.71, 0.89, 1.1, 1.4, 1.8]),
    (7.4, [0.32, 0.4, 0.5, 0.63, 0.79, 1, 1.3, 1.6]),
    (7.8, [0.28, 0.35, 0.45, 0.56, 0.71, 0.89, 1.1, 1.4, 1.8]),
    (8.3, [0.2, 0.25, 0.32, 0.4, 0.5, 0.63, 0.79, 1, 1.3]),
    (8.7, [0.22, 0.28, 0.35, 0.45, 0.56, 0.71, 0.89, 1.1]),
    (9.2, [0.16, 0.2, 0.25, 0.32, 0.4, 0.5, 0.63, 0.79]),
    (9.6, [0.18, 0.22, 0.28, 0.35, 0.45]),
    (10.1, [0.16, 0.2, 0.25, 0.32, 0.4, 0.5]),
    (10.5, [0.11, 0.14, 0.18, 0.22, 0.28, 0.35, 0.45]),
    (11.0, [0.13, 0.16, 0.2, 0.25, 0.32, 0.4]),
    (11.4, [0.18, 0.22, 0.28, 0.35, 0.45]),
    (11.9, [0.16, 0.2, 0.25]),
    (12.4, [0.11, 0.71]),
    (12.9, [0.05, 0.063, 0.079, 0.1]),
    (13.1, [0.18, 0.35, 0.45, 0.56]),
]
AUG_MHP_SCATTER = [
    (0.107, 9.7), (0.067, 9.1), (0.078, 9.1), (0.095, 10.8), (4.9, 11.3), (8.4, 10.8),
    (9.8, 10.8), (14, 10.9), (17, 10.9), (4.9, 9.7), (3.6, 8.9), (4.6, 8.6), (2.3, 8.0),
    (2.7, 8.0), (4.6, 8.0), (2.7, 7.3), (3.6, 6.65), (3.9, 6.65), (2.3, 3.8), (2.1, 3.3),
    (2.7, 3.3), (3.6, 2.5), (34, 1.6), (3.6, 0.8), (0.145, 7.6), (0.23, 7.3), (0.21, 7.0),
    (0.18, 6.6), (0.2, 6.6), (0.28, 5.1), (0.34, 4.6), (0.27, 3.3), (0.31, 3.3),
    (0.18, 2.0), (0.18, 1.4), (0.18, 0.8), (0.2, 0.8), (0.17, 0.25),
]
AUG_MHP_DARK = [
    (12.1, [0.17, 0.2, 0.24, 0.28, 0.31, 0.42, 0.53, 0.78, 0.85]),
    (11.7, [0.31, 0.42, 0.63, 0.85]),
    (11.5, [1.24, 1.5, 1.8, 2.1, 2.47, 3.0, 3.5, 3.9]),
    (11.2, [0.36, 0.53, 0.72, 1.45, 1.75, 2.1, 2.5, 3, 3.5, 4.2]),
    (10.9, [0.85, 1.05, 1.25, 1.5, 1.8, 2.2, 2.7, 3.3, 4, 4.9, 9.1]),
    (10.5, [1.06, 1.3, 1.6, 1.95, 2.4, 3.6]),
    (10.2, [0.67, 0.8, 0.97, 1.15, 1.4, 1.7, 2, 2.4, 2.9, 3.5, 4.2]),
    (9.8, [0.09, 0.1, 0.115, 0.46, 0.91, 1.1, 1.3, 1.6, 1.9, 2.3, 2.9, 3.6]),
    (9.5, [0.91, 1.1, 1.3, 1.6, 1.9, 2.3, 2.8, 3.4, 4.1, 4.9, 5.9, 7.2, 9.1]),
    (9.2, [0.42, 0.5, 0.58, 0.67, 0.8, 0.97, 1.15, 1.4, 1.7, 2.1, 2.67, 4.6, 7.2]),
    (8.9, [0.78, 0.93, 1.1, 1.3, 1.45]),
    (8.5, [4.6]),
    (8.0, [0.62, 1.8, 2.1, 8.8]),
]
AUG_MHP_MEDIAN = [0.78, 0.77, 0.76, 0.76, 0.86, 0.77, 0.9, 0.88, 0.82, 0.67, 0.58, 0.4, 0.28, 0.48]

# ---------------- Oct MHP ----------------
OCT_MHP_LIGHT = [
    (0.2, [0.2, 0.25, 0.32, 0.4, 0.5, 0.63, 0.79, 1, 1.3, 1.6, 2, 2.5, 3.2, 4]),
    (0.6, [0.28, 0.35, 0.45, 0.56, 0.71, 0.89, 1.1, 1.4, 1.8, 2.2, 2.8, 3.5, 7.1, 8.9, 14]),
    (1.1, [0.25, 0.32, 0.4, 0.5, 0.63, 0.79, 1, 1.3, 1.6, 2]),
    (1.5, [0.22, 0.28, 0.35, 0.45, 0.56, 0.71, 0.89, 1.1, 1.4, 1.8]),
    (2.0, [0.2, 0.25, 0.32, 0.4, 0.5, 0.63, 0.79, 1, 1.3, 1.6, 2]),
    (2.4, [0.22, 0.28, 0.35, 0.45, 0.56, 0.71, 0.89, 1.1, 1.4, 1.8]),
    (2.9, [0.2, 0.25, 0.32, 0.4, 0.5, 0.63, 0.79, 1, 1.3, 1.6]),
    (3.3, [0.28, 0.35, 0.45, 0.56, 0.71, 0.89, 1.1, 1.4, 1.8]),
    (3.8, [0.32, 0.4, 0.5, 0.63, 0.79, 1, 1.3, 1.6]),
    (4.2, [0.28, 0.35, 0.45, 0.56, 0.71, 0.89, 1.1, 1.4, 1.8]),
    (4.7, [0.32, 0.4, 0.5, 0.63, 0.79, 1, 1.3, 1.6]),
    (5.1, [0.35, 0.45, 0.56, 0.71, 0.89, 1.1, 1.4]),
    (5.6, [0.32, 0.4, 0.5, 0.63, 0.79, 1, 1.3]),
    (6.0, [0.28, 0.35, 0.45, 0.56, 0.71, 0.89, 1.1, 1.4]),
    (6.5, [0.16, 0.2, 0.4, 0.5, 0.63, 0.79, 1]),
    (6.9, [0.35, 0.45, 0.56, 0.71, 0.89]),
    (7.4, [0.13, 0.16, 0.25, 0.32, 0.4, 0.5, 0.63, 0.79]),
    (7.8, [0.11, 0.14, 0.18, 0.22, 0.28, 0.35, 0.45, 0.56]),
    (8.3, [0.1, 0.13, 0.16, 0.2, 0.25, 0.32, 0.4, 0.5, 0.63]),
    (8.7, [0.089, 0.11, 0.14, 0.18, 0.22, 0.28, 0.35, 0.45, 0.56]),
    (9.2, [0.079, 0.1, 0.13, 0.16, 0.2, 0.25, 0.32, 0.4, 0.5]),
    (9.6, [0.089, 0.11, 0.14, 0.18, 0.22, 0.28, 0.35, 0.45]),
    (10.1, [0.079, 0.1, 0.13, 0.16, 0.2, 0.25, 0.32, 0.4, 0.5]),
    (10.5, [0.089, 0.11, 0.14, 0.18, 0.22, 0.28, 0.35, 0.45]),
    (11.0, [0.063, 0.079, 0.1, 0.13, 0.16, 0.2, 0.25, 0.32]),
    (11.3, [0.071, 0.089, 0.11, 0.14, 0.18, 0.22, 0.28, 0.35, 0.45, 0.56, 0.89]),
    (11.9, [0.4]),
    (12.3, [0.14, 0.22, 0.28]),
    (12.7, [0.1, 0.13, 0.16, 0.2, 0.25, 0.32, 0.4, 0.5, 0.63, 0.79]),
    (13.0, [0.28, 0.45, 0.56, 0.71, 1.4, 1.8, 2.2, 2.8]),
]
OCT_MHP_SCATTER = [
    (0.079, 6.8), (1.8, 7.95), (1.6, 6.6), (3.9, 5.7), (3.1, 3.0), (4.9, 1.5),
    (14.5, 0.65), (39, 0.65), (4.2, 10.1), (5.2, 10.1), (6.4, 10.1), (7.8, 10.1),
    (9.1, 10.1), (2, 9.4), (0.72, 11.4), (0.1, 12.7),
]
OCT_MHP_DARK = [
    (12.7, [0.29]),
    (12.3, [0.18, 0.22, 0.25, 0.34, 0.42, 0.53, 1.0]),
    (11.9, [0.25, 0.39, 0.46, 0.54, 0.62, 1.0, 2.5, 2.9, 3.4, 4, 4.6, 5.4, 6.2, 7.2, 10.6, 11.9, 21]),
    (11.6, [0.25, 0.27, 0.46, 0.67, 1.45, 1.8]),
    (11.1, [3.1, 4.9]),
    (10.7, [0.53, 1, 1.2, 1.45, 1.75, 2.1, 2.5, 4.9]),
    (10.3, [0.34, 0.4, 0.47, 0.55, 0.64, 0.75, 0.88, 1.03, 1.2, 1.4, 1.65, 1.95, 2.3, 2.7, 3.2, 3.8, 4.5, 5.3, 6.2]),
    (10.0, [0.46, 0.55, 0.65, 0.8, 1, 1.56, 1.85, 2.2, 2.6, 3.1, 3.7, 4.4, 5.2, 6.2, 15.6]),
    (9.6, [0.29, 1.34, 1.6, 1.9, 2.2, 2.5]),
    (9.3, [1.45, 1.75, 2.1, 2.5, 5.7, 6.9, 8.3, 10, 12, 14.5, 17.5, 21]),
    (9.0, [1.56, 1.85, 2.2, 2.6, 2.9, 6.2, 9.1, 10.6, 12.4]),
    (8.7, [1.7, 4.6, 5.7, 12.4]),
    (8.3, [0.42, 0.5, 0.62, 6.2]),
    (7.9, [3.1]),
    (7.6, [6.2]),
]
OCT_MHP_MEDIAN = [1.0, 0.71, 0.81, 0.78, 0.76, 0.77, 0.8, 0.85, 0.75, 0.64, 0.55, 0.31, 0.31, 0.61]

# ---------------- styling ----------------
LIGHT_COLOR = "#b0b0b0"
DARK_COLOR = "#666666"
AXIS_COLOR = "#4d4d4d"
TEXT_COLOR = "#1a1a1a"
MARKER_S = 78

PANELS = [
    [
        (FEB_H2O2_LIGHT, FEB_H2O2_SCATTER, FEB_H2O2_DARK, FEB_H2O2_MEDIAN, MED_ALT_13),
        (MAY_H2O2_LIGHT, MAY_H2O2_SCATTER, MAY_H2O2_DARK, MAY_H2O2_MEDIAN, MED_ALT_13),
        (AUG_H2O2_LIGHT, AUG_H2O2_SCATTER, AUG_H2O2_DARK, AUG_H2O2_MEDIAN, MED_ALT_14),
        (OCT_H2O2_LIGHT, OCT_H2O2_SCATTER, OCT_H2O2_DARK, OCT_H2O2_MEDIAN, MED_ALT_14),
    ],
    [
        (FEB_MHP_LIGHT, FEB_MHP_SCATTER, FEB_MHP_DARK, FEB_MHP_MEDIAN, MED_ALT_13),
        (MAY_MHP_LIGHT, MAY_MHP_SCATTER, MAY_MHP_DARK, MAY_MHP_MEDIAN, MED_ALT_13),
        (AUG_MHP_LIGHT, AUG_MHP_SCATTER, AUG_MHP_DARK, AUG_MHP_MEDIAN, MED_ALT_14),
        (OCT_MHP_LIGHT, OCT_MHP_SCATTER, OCT_MHP_DARK, OCT_MHP_MEDIAN, MED_ALT_14),
    ],
]


def rows_to_df(rows):
    recs = []
    for alt, xs in rows:
        for x in xs:
            recs.append((x, alt))
    return pd.DataFrame(recs, columns=["ratio", "alt"])


W, H = 1316, 905
fig = plt.figure(figsize=(W / 100, H / 100), dpi=100)

LEFTS_PX = [79, 395, 710, 1025]
WIDTH_PX = 300
ROWS_PX = [(43, 383), (497, 836)]  # (top, bottom) in pixels

for r in range(2):
    top_px, bot_px = ROWS_PX[r]
    for c in range(4):
        ax = fig.add_axes([LEFTS_PX[c] / W, 1 - bot_px / H, WIDTH_PX / W, (bot_px - top_px) / H])
        ax.set_xscale("log")
        light_rows, scatter_pts, dark_rows, med, med_alt = PANELS[r][c]
        df_light = pd.concat([rows_to_df(light_rows),
                              pd.DataFrame(scatter_pts, columns=["ratio", "alt"])],
                             ignore_index=True)
        df_dark = rows_to_df(dark_rows)
        sns.scatterplot(data=df_light, x="ratio", y="alt", color=LIGHT_COLOR, s=MARKER_S,
                        linewidth=0, alpha=1, ax=ax, zorder=2)
        sns.scatterplot(data=df_dark, x="ratio", y="alt", color=DARK_COLOR, s=MARKER_S,
                        linewidth=0, alpha=1, ax=ax, zorder=3)
        ax.axvline(REF_RATIO, ymin=0, ymax=REF_TOP / YLIM[1], color="black", lw=2.4,
                   dashes=(4.0, 2.1), zorder=4)
        df_med = pd.DataFrame({"ratio": med, "alt": med_alt})
        sns.lineplot(data=df_med, x="ratio", y="alt", sort=False, estimator=None,
                     color="black", lw=2.2, ax=ax, zorder=5)

        ax.set_xlim(*XLIM)
        ax.set_ylim(*YLIM)
        ax.xaxis.set_major_locator(FixedLocator(XTICKS))
        ax.set_xticklabels(XTICKLABELS[r])
        ax.xaxis.set_minor_locator(LogLocator(base=10, subs=np.arange(2, 10) * 1.0, numticks=20))
        ax.xaxis.set_minor_formatter(NullFormatter())
        ax.set_yticks(YTICKS)
        if c == 0:
            ax.set_ylabel(YLABEL, fontsize=16.5, color=TEXT_COLOR, labelpad=6)
        else:
            ax.set_yticklabels([])
            ax.set_ylabel("")
        ax.set_xlabel(XLABELS[r], fontsize=17.5, color=TEXT_COLOR, labelpad=5)
        ax.set_title(TITLES[c], fontsize=15, fontweight="bold", color="black", pad=8)
        for s in ["top", "right"]:
            ax.spines[s].set_visible(False)
        for s in ["left", "bottom"]:
            ax.spines[s].set_color(AXIS_COLOR)
            ax.spines[s].set_linewidth(0.9)
        ax.tick_params(which="major", direction="in", length=4.5, width=0.8, colors=AXIS_COLOR,
                       labelcolor=TEXT_COLOR, labelsize=13)
        ax.tick_params(which="minor", direction="in", length=2.5, width=0.7, colors=AXIS_COLOR)
        ax.tick_params(axis="x", which="major", pad=11)
        ax.tick_params(axis="y", which="major", pad=8)
        ax.set_facecolor("white")
        leg = ax.get_legend()
        if leg is not None:
            leg.remove()

fig.savefig("out.png", dpi=100, facecolor="white")
